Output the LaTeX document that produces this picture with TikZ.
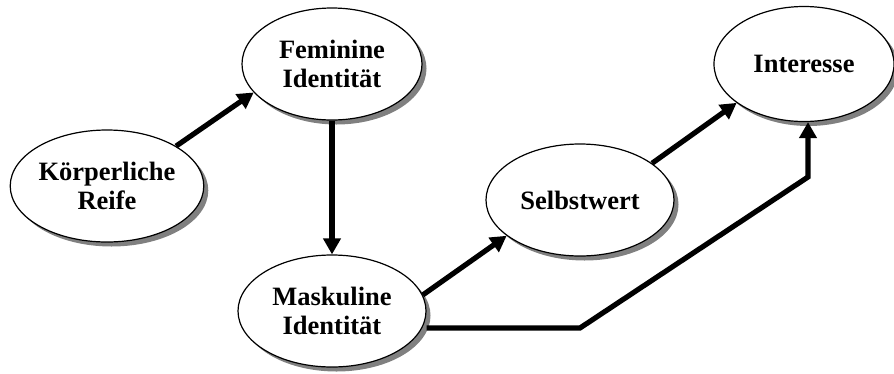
\documentclass[tikz,border=0pt]{standalone}
\usepackage{fontspec}
\setmainfont{Liberation Serif}
\usetikzlibrary{shapes.geometric,shadows,arrows.meta}

\tikzset{
  faktor/.style={ellipse,draw,line width=1.2pt,fill=white,minimum width=188pt,minimum height=112pt,inner sep=0pt,
    align=center,font=\fontsize{26.5}{29}\selectfont\bfseries,
    drop shadow={shadow xshift=4.5pt,shadow yshift=-4.5pt,fill=black!50,opacity=1}},
  pfeil/.style={line width=5.2pt,-{Triangle[length=16pt,width=17pt]}}
}

\begin{document}
\begin{tikzpicture}[x=1pt,y=1pt,yscale=-1,xscale=1]
	\useasboundingbox (0,0) rectangle (894,373);
	% Knoten
	\node[faktor] (koerper) at (107,186) {Körperliche\\Reife};
	\node[faktor,minimum width=180pt] (fem) at (332,64) {Feminine\\Identität};
	\node[faktor] (mask) at (332,311) {Maskuline\\Identität};
	\node[faktor] (selbst) at (580,200) {Selbstwert};
	\node[faktor,minimum width=180pt,minimum height=115pt] (inter) at (804,64) {Interesse};
	% Pfade
	\coordinate (knick1) at (580,328);
	\coordinate (knick2) at (808,177);
	\draw[pfeil] (koerper.30) -- (fem.200);
	\draw[pfeil] (fem) -- (mask);
	\draw[pfeil] (mask.10) -- (selbst.206);
	\draw[pfeil] (selbst.27) -- (inter.210);
	\draw[pfeil,line join=miter] (mask.east |- knick1) -- (knick1) -- (knick2) -- (knick2 |- inter.south);
\end{tikzpicture}
\end{document}
